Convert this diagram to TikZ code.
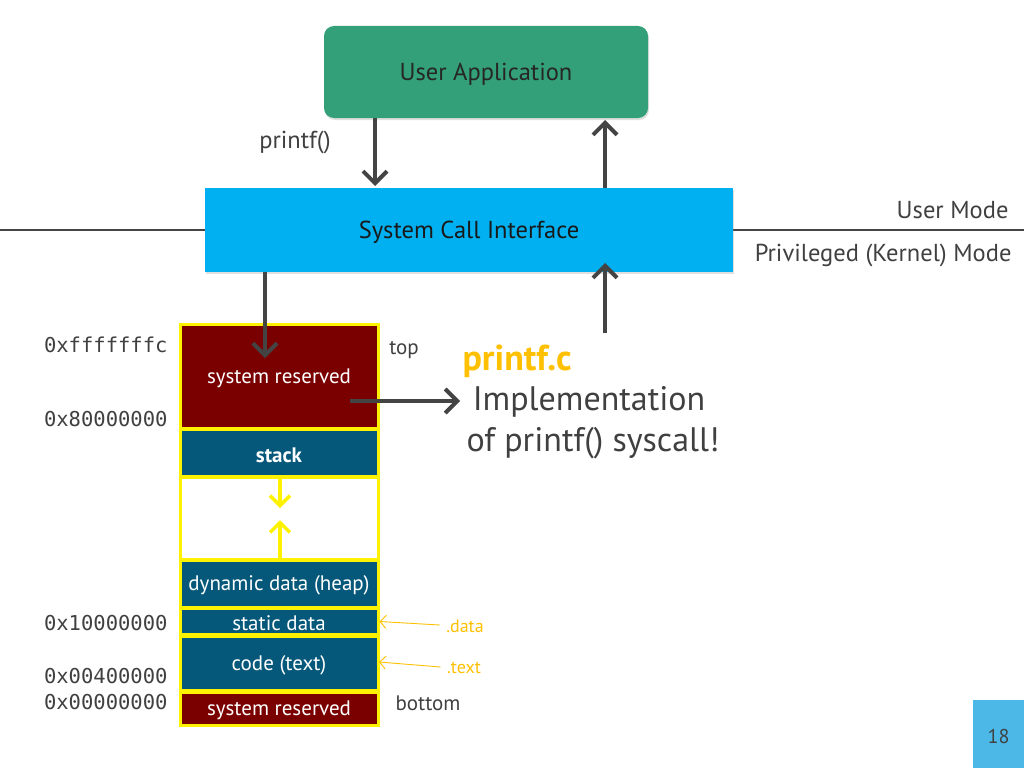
\documentclass[tikz,border=0pt]{standalone}
\usepackage{fontspec}
\setmainfont{PT Sans}
\setmonofont{DejaVu Sans Mono}
\usetikzlibrary{arrows.meta,shadows}
\definecolor{appgreen}{HTML}{33A07A}
\definecolor{scicyan}{HTML}{00B0F0}
\definecolor{sysred}{HTML}{7A0000}
\definecolor{segteal}{HTML}{05587A}
\definecolor{txtgray}{HTML}{404040}
\definecolor{arrgray}{HTML}{444444}
\definecolor{hlorange}{HTML}{FFC000}
\definecolor{pagecyan}{HTML}{4BB8E8}
\tikzset{
  fs/.style={font=\fontsize{#1}{#1}\selectfont},
  thickarrow/.style={draw=arrgray,line width=4pt,-{Straight Barb[length=12pt,width=24pt,line width=4pt]}},
  seg/.style={draw=yellow,line width=3pt,text=white,inner sep=0pt},
  addr/.style={anchor=east,text=txtgray,font=\fontsize{20.5}{20.5}\ttfamily},
  thinarrow/.style={draw=hlorange,line width=0.9pt,-{Straight Barb[length=6pt,width=13pt]}},
  yelarrow/.style={draw=yellow,line width=3.5pt,-{Straight Barb[length=10pt,width=20pt,line width=3.5pt]}},
}
\begin{document}
\begin{tikzpicture}[x=1pt,y=-1pt]
\useasboundingbox (0,0) rectangle (1024,768);
% mode line
\draw[arrgray,line width=2.5pt] (0,230) -- (1024,230);
% User application
\node[fill=appgreen,rounded corners=10pt,minimum width=324pt,minimum height=92pt,inner sep=0pt,
  drop shadow={shadow xshift=1pt,shadow yshift=-2pt,opacity=0.25}] (app) at (486,72) {};
\node[text=black!85,fs=24.5] (appt) at (486,74.5) {User Application};
% SCI
\node[fill=scicyan,minimum width=528pt,minimum height=84pt,inner sep=0pt,
  drop shadow={shadow xshift=1pt,shadow yshift=-2pt,opacity=0.25}] (sci) at (469,230) {};
\node[text=black!90,fs=24.5] (scit) at (469,232.5) {System Call Interface};
\node[text=txtgray,fs=24.5] (printf) at (295,142) {printf()};
\node[anchor=east,text=txtgray,fs=24.5] (um) at (1012,210) {User Mode};
\node[anchor=east,text=txtgray,fs=24.5] (pm) at (1015,255) {Privileged (Kernel) Mode};
\coordinate (a1s) at (375,118);
\coordinate (a1e) at (375,186);
\coordinate (a2s) at (605,188);
\coordinate (a2e) at (605,120);
\draw[thickarrow] (a1s) -- (a1e);
\draw[thickarrow] (a2s) -- (a2e);
% memory segments
\node[seg,fill=sysred,minimum width=198pt,minimum height=104pt] (sr1) at (279,376) {};
\node[seg,fill=segteal,minimum width=198pt,minimum height=47pt] (stack) at (279,453) {};
\node[seg,fill=white,minimum width=198pt,minimum height=82pt] (gap) at (279,518) {};
\node[seg,fill=segteal,minimum width=198pt,minimum height=47pt] (heap) at (279,584) {};
\node[seg,fill=segteal,minimum width=198pt,minimum height=26pt] (static) at (279,621.5) {};
\node[seg,fill=segteal,minimum width=198pt,minimum height=54pt] (code) at (279,663.5) {};
\node[seg,fill=sysred,minimum width=198pt,minimum height=33pt] (sr2) at (279,708.5) {};
\tikzset{segt/.style={text=white,fs=21}}
\node[segt] (sr1t) at (279,378) {system reserved};
\node[segt,font=\bfseries\fontsize{21}{21}\selectfont] (stackt) at (279,455) {stack};
\node[segt] (heapt) at (279,585) {dynamic data (heap)};
\node[segt] (statict) at (279,623) {static data};
\node[segt] (codet) at (279,665) {code (text)};
\node[segt] (sr2t) at (279,710) {system reserved};
% yellow growth arrows
\coordinate (ys1) at (280,478);
\coordinate (ye1) at (280,508);
\coordinate (ys2) at (280,558);
\coordinate (ye2) at (280,520);
\draw[yelarrow] (ys1) -- (ye1);
\draw[yelarrow] (ys2) -- (ye2);
% arrows from SCI to memory and back
\coordinate (a3s) at (265,272);
\coordinate (a3e) at (265,358);
\draw[thickarrow] (a3s) -- (a3e);
\coordinate (a4s) at (605,333);
\coordinate (a4e) at (605,263);
\draw[thickarrow] (a4s) -- (a4e);
% addresses
\node[addr] (ad1) at (171,345) {0xfffffffc};
\node[addr] (ad2) at (171,419) {0x80000000};
\node[addr] (ad3) at (171,623) {0x10000000};
\node[addr] (ad4) at (171,676) {0x00400000};
\node[addr] (ad5) at (171,702) {0x00000000};
\node[text=txtgray,fs=21] (top) at (404,350) {top};
\node[text=txtgray,fs=21] (bottom) at (428,703) {bottom};
% printf.c
\node[anchor=west,text=hlorange,font=\bfseries\fontsize{36}{36}\selectfont] (pc) at (459,361) {printf.c};
\node[text=txtgray,fs=34] (impl) at (589,402) {Implementation};
\node[text=txtgray,fs=34] (impl2) at (593,443) {of printf() syscall!};
\coordinate (a5s) at (350,401);
\coordinate (a5e) at (460,401);
\draw[thickarrow] (a5s) -- (a5e);
% .data/.text
\node[text=hlorange,fs=18] (dd) at (465,626) {.data};
\node[text=hlorange,fs=18] (tt) at (464,668) {.text};
\draw[thinarrow] (dd.west) ++(-3,-1) -- (static.east);
\draw[thinarrow] (tt.west) ++(-3,-1) -- (379,662);
% page number
\node[fill=pagecyan,minimum width=51pt,minimum height=68pt,inner sep=0pt] (pg) at (998.5,734) {};
\node[text=txtgray,fs=20] (pgt) at (998.5,736) {18};
\end{tikzpicture}
\end{document}
